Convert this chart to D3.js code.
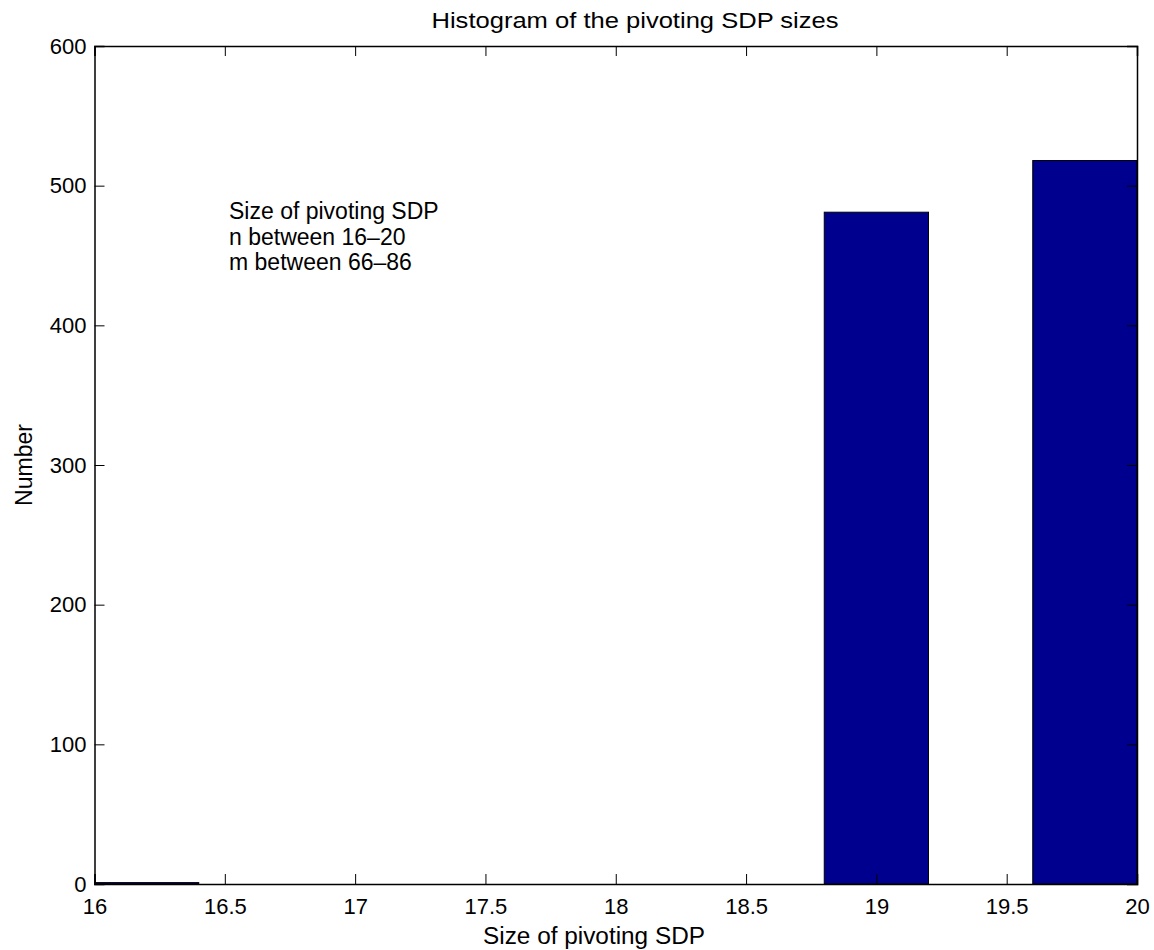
<!DOCTYPE html>
<html>
<head>
<meta charset="utf-8">
<script src="https://cdn.jsdelivr.net/npm/d3@7"></script>
<style>
  body { margin: 0; background: #fff; }
  svg text { font-family: "Liberation Sans", Arial, sans-serif; fill: #000; }
</style>
</head>
<body>
<div id="chart"></div>
<script>
// histogram bins (centres) and counts
const binCenters = [16.2, 16.6, 17.0, 17.4, 17.8, 18.2, 18.6, 19.0, 19.4, 19.8];
const counts = [1, 0, 0, 0, 0, 0, 0, 481, 0, 518];
const binWidth = 0.4;
const xTicks = [16, 16.5, 17, 17.5, 18, 18.5, 19, 19.5, 20];
const yTicks = [0, 100, 200, 300, 400, 500, 600];
const noteLines = ["Size of pivoting SDP", "n between 16\u201320", "m between 66\u201386"];

const width = 1154;
const height = 950;
const margin = { top: 46, right: 17, bottom: 66, left: 94.5 };

const svg = d3.select("#chart").append("svg").attr("width", width).attr("height", height);

const x = d3.scaleLinear().domain([16, 20]).range([margin.left, width - margin.right]);
const y = d3.scaleLinear().domain([0, 600]).range([height - margin.bottom, margin.top]);

// bars (skip empty bins)
svg.append("g")
  .selectAll("rect")
  .data(binCenters.map((c, i) => ({ c, n: counts[i] })).filter((d) => d.n > 0))
  .join("rect")
  .attr("x", (d) => x(d.c - binWidth / 2))
  .attr("y", (d) => y(d.n))
  .attr("width", (d) => x(d.c + binWidth / 2) - x(d.c - binWidth / 2))
  .attr("height", (d) => y(0) - y(d.n))
  .attr("fill", "#00008f")
  .attr("stroke", "#000")
  .attr("stroke-width", 1);

// axes, ticks pointing inwards
const tickLen = 10;
const fmt = (d) => String(d);
svg.append("g").attr("transform", `translate(0,${y(0)})`)
  .call(d3.axisBottom(x).tickValues(xTicks).tickSize(-tickLen).tickPadding(14).tickFormat(fmt));
svg.append("g").attr("transform", `translate(0,${y(600)})`)
  .call(d3.axisTop(x).tickValues(xTicks).tickSize(-tickLen).tickFormat(""));
svg.append("g").attr("transform", `translate(${x(16)},0)`)
  .call(d3.axisLeft(y).tickValues(yTicks).tickSize(-tickLen).tickPadding(8).tickFormat(fmt));
svg.append("g").attr("transform", `translate(${x(20)},0)`)
  .call(d3.axisRight(y).tickValues(yTicks).tickSize(-tickLen).tickFormat(""));

svg.selectAll(".domain").attr("stroke", "#000").attr("stroke-width", 1.5);
svg.selectAll(".tick line").attr("stroke", "#000");
svg.selectAll(".tick text").style("font-size", "22px").attr("fill", "#000");

// title and labels (the original lettering is drawn a little wide)
svg.append("text").attr("x", 635).attr("y", 28).attr("text-anchor", "middle")
  .attr("textLength", 407).attr("lengthAdjust", "spacingAndGlyphs")
  .style("font-size", "22px").text("Histogram of the pivoting SDP sizes");
svg.append("text").attr("x", 594).attr("y", 944).attr("text-anchor", "middle")
  .attr("textLength", 222).attr("lengthAdjust", "spacingAndGlyphs")
  .style("font-size", "23px").text("Size of pivoting SDP");
svg.append("text").attr("transform", "translate(32,465) rotate(-90)").attr("text-anchor", "middle")
  .style("font-size", "23px").text("Number");

// annotation
svg.append("g").selectAll("text").data(noteLines).join("text")
  .attr("x", 229).attr("y", (d, i) => 219 + i * 25.5)
  .style("font-size", "23px")
  .text((d) => d);
</script>
</body>
</html>
